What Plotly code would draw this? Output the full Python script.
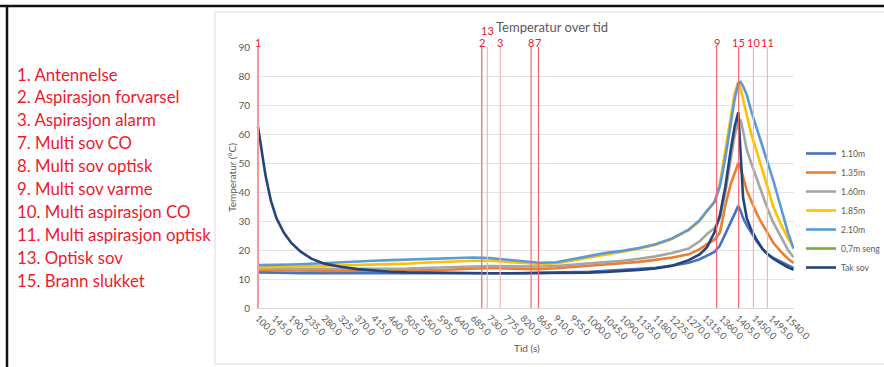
import plotly.graph_objects as go

# ---- measurement data: temperature (°C) per sensor over time (s) ----
times = [100, 110, 120, 135, 150, 170, 190, 215, 245, 280, 325, 370, 415, 460, 505,
         550, 595, 640, 685, 730, 775, 820, 865, 910, 955, 1000, 1045, 1090, 1135,
         1180, 1225, 1270, 1300, 1320, 1340, 1355, 1370, 1385, 1395, 1405, 1411,
         1418, 1428, 1440, 1455, 1470, 1485, 1500, 1520, 1540, 1555]

h_110 = [12.3, 12.3, 12.3, 12.2, 12.2, 12.1, 12.1, 12.0, 12.0, 12.0, 11.9, 11.9, 11.8,
         11.8, 11.8, 11.9, 12.0, 12.0, 12.0, 12.0, 12.0, 12.0, 12.1, 12.2, 12.3, 12.5,
         12.8, 13.1, 13.5, 13.9, 14.6, 15.6, 16.8, 18.0, 19.3, 21.5, 25.5, 29.5, 32.5,
         35.2, 33.5, 31.0, 28.5, 26.0, 23.0, 20.5, 18.5, 17.3, 16.0, 14.5, 13.8]

h_135 = [13.1, 13.1, 13.1, 13.0, 13.0, 13.0, 12.9, 12.9, 12.9, 12.8, 12.8, 12.8, 12.8,
         12.8, 12.9, 13.0, 13.1, 13.3, 13.7, 13.8, 13.6, 13.4, 13.4, 13.7, 14.1, 14.5,
         15.0, 15.4, 15.9, 16.6, 17.4, 18.5, 20.3, 22.0, 23.5, 26.0, 35.5, 43.0, 46.5,
         50.0, 48.5, 45.0, 40.5, 37.0, 32.5, 29.0, 25.5, 22.5, 19.5, 17.0, 15.5]

h_160 = [13.5, 13.5, 13.5, 13.5, 13.4, 13.4, 13.4, 13.4, 13.4, 13.4, 13.4, 13.4, 13.4,
         13.4, 13.6, 13.8, 14.0, 14.3, 14.5, 14.5, 14.4, 14.3, 14.3, 14.5, 14.9, 15.3,
         15.8, 16.3, 17.0, 17.8, 19.0, 20.5, 23.0, 25.5, 27.5, 31.0, 40.0, 52.0, 59.5,
         64.0, 65.0, 61.0, 54.5, 50.0, 44.5, 39.5, 34.0, 29.5, 25.0, 20.0, 17.5]

h_185 = [14.0, 14.0, 14.0, 14.0, 14.0, 14.1, 14.2, 14.3, 14.4, 14.5, 14.6, 14.7, 14.8,
         15.0, 15.3, 15.6, 15.9, 16.1, 16.3, 16.3, 16.0, 15.5, 15.2, 15.4, 16.4, 17.5,
         18.5, 19.3, 20.4, 21.8, 23.8, 26.8, 30.0, 33.5, 36.5, 43.0, 55.0, 67.0, 74.0,
         78.0, 76.0, 72.0, 66.5, 60.0, 54.0, 47.5, 41.0, 35.0, 29.0, 24.0, 21.0]

h_210 = [14.8, 14.8, 14.8, 14.8, 14.8, 14.9, 15.0, 15.1, 15.3, 15.6, 15.9, 16.1, 16.3,
         16.5, 16.7, 16.9, 17.1, 17.3, 17.4, 17.2, 16.6, 16.0, 15.6, 15.8, 16.8, 18.0,
         19.0, 19.7, 20.7, 22.0, 24.0, 27.0, 30.3, 33.5, 36.5, 42.0, 52.0, 64.0, 72.0,
         77.5, 78.0, 76.5, 73.5, 68.0, 62.0, 56.5, 50.0, 44.0, 35.0, 26.0, 20.5]

seng_07 = [None]  # sensor in bed (0.7 m): no valid readings logged

tak_sov = [62.5, 54.0, 46.0, 37.0, 31.0, 26.0, 22.5, 19.5, 17.0, 15.3, 14.2, 13.4, 12.9,
           12.5, 12.3, 12.2, 12.1, 12.0, 12.0, 12.0, 12.0, 12.0, 12.0, 12.0, 12.1, 12.2,
           12.4, 12.7, 13.1, 13.6, 14.6, 16.5, 18.5, 21.0, 26.0, 32.0, 42.0, 55.0, 62.5,
           67.5, 55.0, 38.0, 31.0, 27.0, 23.5, 20.5, 18.5, 17.0, 15.5, 14.0, 13.2]

series_names = ["1.10m", "1.35m", "1.60m", "1.85m", "2.10m", "0,7m seng", "Tak sov"]
series_colors = ["#4472C4", "#ED7D31", "#A5A5A5", "#FFC000", "#5B9BD5", "#70AD47", "#264478"]
series_values = [h_110, h_135, h_160, h_185, h_210, seng_07, tak_sov]

# ---- detector / event markers (s) ----
event_labels = ["1", "2", "13", "3", "8", "7", "9", "15", "10", "11"]
event_times = [100, 708, 723, 758, 842, 862, 1346, 1406, 1446, 1484]
event_faint = ["13", "3", "10", "11"]

legend_text = ["1. Antennelse", "2. Aspirasjon forvarsel", "3. Aspirasjon alarm",
               "7. Multi sov CO", "8. Multi sov optisk", "9. Multi sov varme",
               "10. Multi aspirasjon CO", "11. Multi aspirasjon optisk",
               "13. Optisk sov", "15. Brann slukket"]

tick_values = list(range(100, 1541, 45))
tick_text = [f"{v:.1f}" for v in tick_values]

# ---- layout geometry (pixels) ----
W, H = 884, 367
PL, PR, PT, PB = 256, 794, 47, 308


def px(x):
    return (x - PL) / (PR - PL)


def py(y):
    return (PB - y) / (PB - PT)


FONT = "Lato"
GREY = "#595959"
RED = "#F0192B"

fig = go.Figure()
for name, color, vals in zip(series_names, series_colors, series_values):
    fig.add_trace(go.Scatter(
        x=times[:len(vals)], y=vals, name=name, mode="lines",
        line=dict(color=color, width=2.6), showlegend=True,
    ))

shapes = []
annotations = []

# event lines and their numbers
for lab, t in zip(event_labels, event_times):
    faint = lab in event_faint
    shapes.append(dict(
        type="line", xref="x", yref="y", x0=t, x1=t,
        y0=0, y1=91.5 if lab == "1" else 90,
        line=dict(color="#F7B4B4" if faint else ("#F39A9A" if lab == "1" else "#EE6A6A"),
                  width=2 if lab == "1" else 1.2),
        layer="above",
    ))
    annotations.append(dict(
        x=t, xref="x", y=py(30.5 if lab == "13" else 42.5), yref="paper",
        text=lab, showarrow=False, xanchor="center", yanchor="middle",
        font=dict(family=FONT, size=11, color=RED), borderpad=0,
    ))

# event description list on the left
for i, txt in enumerate(legend_text):
    annotations.append(dict(
        x=px(15), xref="paper", y=py(74 + i * 22.9), yref="paper",
        text=txt, showarrow=False, xanchor="left", yanchor="middle",
        font=dict(family=FONT, size=16.8, color=RED),
    ))

# chart title and axis titles
annotations.append(dict(
    x=px(552), xref="paper", y=py(27), yref="paper", text="Temperatur over tid",
    showarrow=False, xanchor="center", yanchor="middle",
    font=dict(family=FONT, size=13, color=GREY),
))
annotations.append(dict(
    x=px(232), xref="paper", y=py(178), yref="paper", text="Temperatur (°C)",
    showarrow=False, textangle=-90, xanchor="center", yanchor="middle",
    font=dict(family=FONT, size=10, color=GREY),
))
annotations.append(dict(
    x=px(527), xref="paper", y=py(348), yref="paper", text="Tid (s)",
    showarrow=False, xanchor="center", yanchor="middle",
    font=dict(family=FONT, size=10, color=GREY),
))

# frames: outer black frame (top, left) and the chart box
shapes.append(dict(type="rect", xref="paper", yref="paper",
                   x0=px(215), x1=px(890), y0=py(364), y1=py(12),
                   line=dict(color="#D9D9D9", width=1), layer="below"))
shapes.append(dict(type="line", xref="paper", yref="paper",
                   x0=px(0), x1=px(W), y0=py(6), y1=py(6),
                   line=dict(color="#111111", width=2.5)))
shapes.append(dict(type="line", xref="paper", yref="paper",
                   x0=px(7), x1=px(7), y0=py(6), y1=py(H),
                   line=dict(color="#111111", width=2.5)))

t_left = 100 - (258 - PL) / (530 / 1440)
t_right = 1540 + (PR - 788) / (530 / 1440)

fig.update_layout(
    width=W, height=H,
    margin=dict(l=PL, r=W - PR, t=PT, b=H - PB, pad=0, autoexpand=False),
    paper_bgcolor="white", plot_bgcolor="white",
    font=dict(family=FONT, color=GREY),
    xaxis=dict(
        range=[t_left, t_right], tickvals=tick_values, ticktext=tick_text,
        tickangle=45, tickfont=dict(size=9.5, color=GREY),
        showgrid=False, showline=True, linecolor="#D9D9D9", linewidth=1,
        zeroline=False, ticks="", automargin=False,
    ),
    yaxis=dict(
        range=[0, 90], dtick=10, tickfont=dict(size=10, color=GREY),
        showgrid=True, gridcolor="#E3E3E3", gridwidth=1, zeroline=False,
        showline=False, ticks="", ticklabelstandoff=5, automargin=False,
    ),
    legend=dict(
        x=px(801), xanchor="left", y=py(139), yanchor="top",
        font=dict(size=8.6, color=GREY, family=FONT),
        bgcolor="rgba(0,0,0,0)", tracegroupgap=0,
    ),
    shapes=shapes,
    annotations=annotations,
    showlegend=True,
)

fig.write_html("out.html")
